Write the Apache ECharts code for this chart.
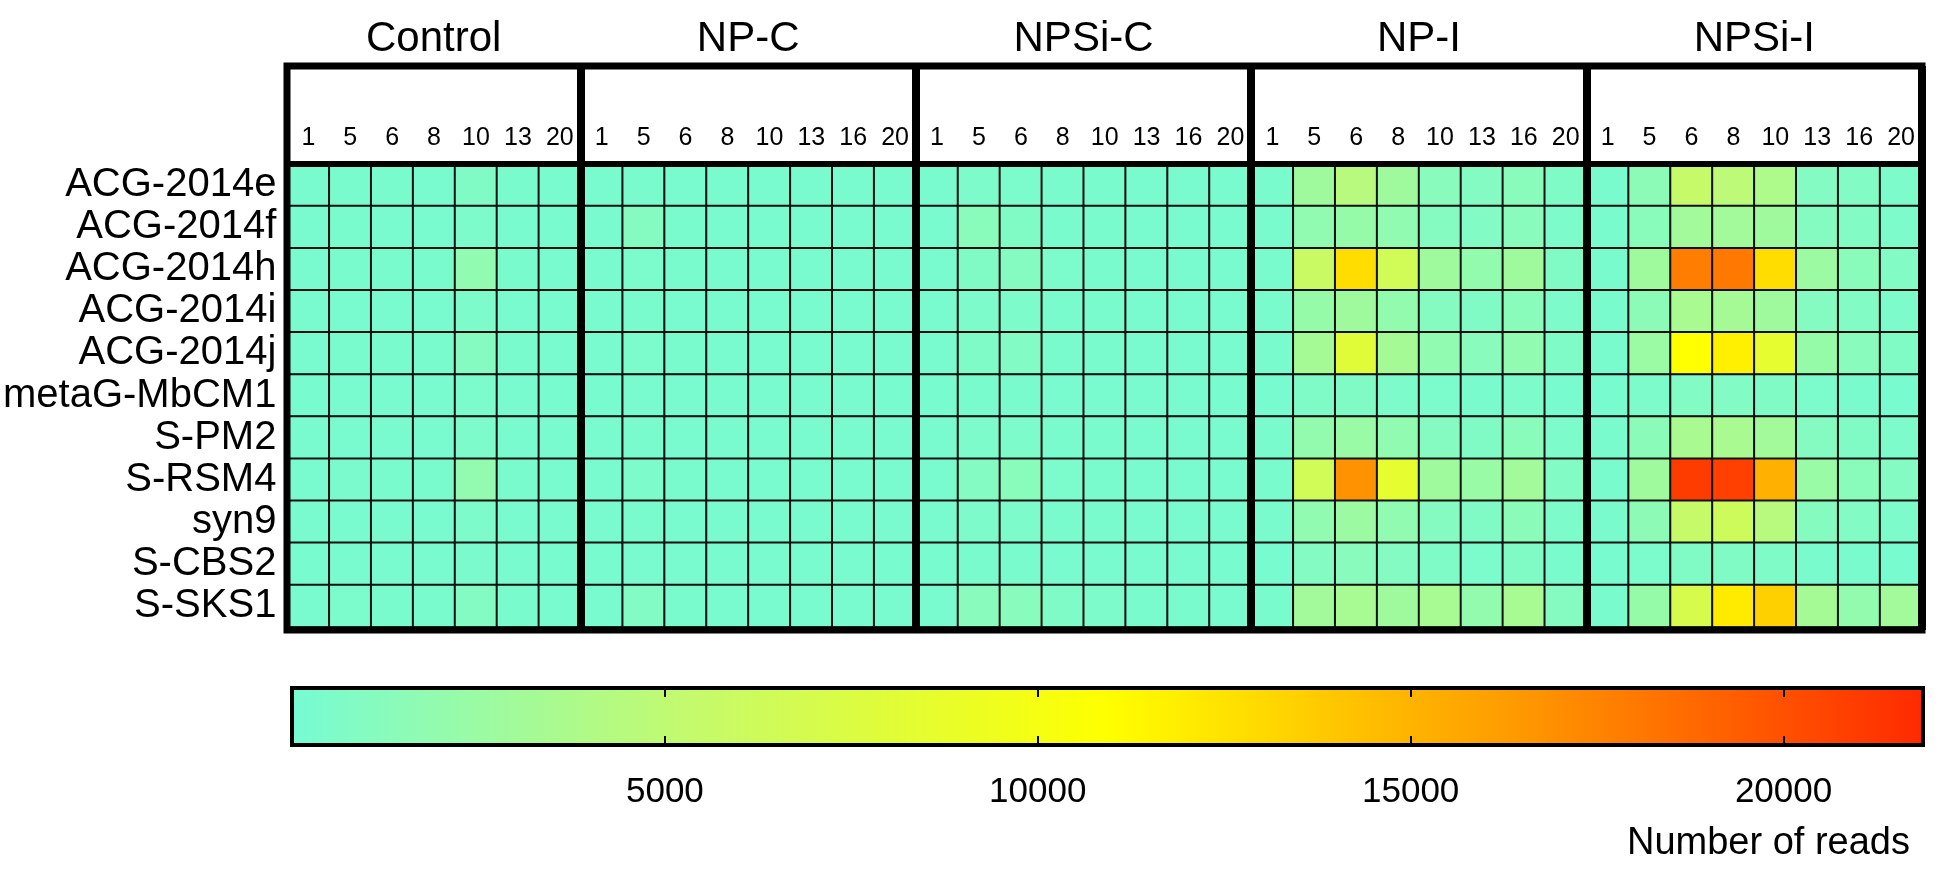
<!DOCTYPE html>
<html>
<head>
<meta charset="utf-8">
<title>Number of reads heatmap</title>
<script src="https://cdn.jsdelivr.net/npm/echarts@6/dist/echarts.min.js"></script>
<style>
  html, body { margin: 0; padding: 0; background: #fff; }
  #chart { width: 1950px; height: 873px; }
</style>
</head>
<body>
<div id="chart"></div>
<script>
// rows (top to bottom)
const strains = ['ACG-2014e', 'ACG-2014f', 'ACG-2014h', 'ACG-2014i', 'ACG-2014j',
  'metaG-MbCM1', 'S-PM2', 'S-RSM4', 'syn9', 'S-CBS2', 'S-SKS1']

const groups = ['Control', 'NP-C', 'NPSi-C', 'NP-I', 'NPSi-I']
const controlDays = ['1', '5', '6', '8', '10', '13', '20']
const treatDays = ['1', '5', '6', '8', '10', '13', '16', '20']

// reads per strain (row) and sampling day (column)
const controlReads = [
  [250, 300, 300, 250, 700, 300, 250],
  [250, 300, 250, 250, 500, 250, 250],
  [250, 300, 300, 300, 1800, 300, 250],
  [250, 250, 250, 250, 500, 250, 250],
  [250, 300, 300, 300, 1000, 300, 250],
  [200, 250, 250, 250, 400, 250, 200],
  [250, 250, 250, 250, 500, 250, 250],
  [250, 350, 300, 300, 1900, 300, 250],
  [250, 250, 250, 250, 500, 250, 250],
  [200, 250, 250, 250, 350, 250, 200],
  [250, 400, 300, 300, 900, 300, 250]
]
const npcReads = [
  [250, 300, 250, 250, 250, 250, 250, 250],
  [250, 1000, 300, 250, 250, 250, 250, 250],
  [250, 400, 300, 250, 250, 250, 250, 250],
  [250, 300, 250, 250, 250, 250, 250, 250],
  [250, 400, 300, 250, 250, 250, 250, 250],
  [200, 250, 250, 250, 250, 250, 250, 200],
  [250, 300, 250, 250, 250, 250, 250, 250],
  [250, 500, 300, 250, 250, 250, 250, 250],
  [250, 300, 250, 250, 250, 250, 250, 250],
  [200, 250, 250, 250, 250, 250, 250, 200],
  [250, 800, 300, 250, 250, 250, 250, 250]
]
const npsicReads = [
  [250, 500, 400, 300, 300, 250, 250, 250],
  [250, 1300, 700, 300, 300, 250, 250, 250],
  [250, 700, 1000, 400, 300, 250, 250, 250],
  [250, 500, 500, 300, 300, 250, 250, 250],
  [250, 600, 800, 300, 300, 250, 250, 250],
  [200, 300, 300, 250, 250, 250, 250, 200],
  [250, 500, 500, 300, 300, 250, 250, 250],
  [250, 900, 1300, 400, 300, 250, 250, 250],
  [250, 500, 500, 300, 300, 250, 250, 250],
  [200, 300, 300, 250, 250, 250, 250, 200],
  [250, 1200, 1200, 600, 500, 300, 300, 250]
]
const npiReads = [
  [300, 2800, 4500, 2800, 1200, 900, 1300, 600],
  [300, 1800, 2200, 1800, 1000, 800, 1200, 500],
  [300, 5800, 12800, 6500, 2800, 2000, 2800, 700],
  [300, 2200, 2800, 2000, 1000, 700, 1300, 500],
  [300, 3200, 8000, 3200, 1800, 1200, 1800, 600],
  [200, 600, 700, 500, 400, 300, 500, 200],
  [300, 2000, 2400, 1800, 1000, 700, 1300, 500],
  [300, 6500, 16800, 8500, 2800, 2400, 3000, 800],
  [300, 1800, 2600, 1800, 1000, 700, 1400, 500],
  [200, 900, 1200, 900, 600, 400, 700, 300],
  [300, 3000, 3400, 2800, 3400, 2000, 3400, 1000]
]
const npsiiReads = [
  [300, 1500, 5500, 4800, 3800, 900, 800, 500],
  [300, 1300, 3000, 3000, 2800, 1000, 800, 500],
  [300, 2800, 17800, 18000, 12800, 2600, 1300, 800],
  [300, 1500, 3500, 3200, 2800, 1000, 800, 500],
  [300, 2500, 10900, 11800, 8500, 2200, 1200, 700],
  [200, 500, 800, 800, 700, 400, 300, 200],
  [300, 1400, 3500, 3500, 3000, 1000, 700, 500],
  [300, 2800, 21000, 20800, 15200, 2400, 1300, 900],
  [300, 1600, 5500, 6200, 4500, 1100, 800, 500],
  [200, 400, 700, 700, 600, 300, 300, 200],
  [300, 2200, 7000, 12000, 13500, 3200, 2000, 3000]
]

const colorTicks = [5000, 10000, 15000, 20000]
const readsMax = 21870

const groupDays = [controlDays, treatDays, treatDays, treatDays, treatDays]
const groupReads = [controlReads, npcReads, npsicReads, npiReads, npsiiReads]

// build columns and heatmap cells
const columns = []
const groupStarts = []
const groupCenters = {}
const cells = []
groups.forEach((g, gi) => {
  const start = columns.length
  groupStarts.push(start)
  groupDays[gi].forEach((d, di) => {
    const col = columns.length
    columns.push(g + '|' + d)
    groupReads[gi].forEach((row, ri) => {
      cells.push([col, ri, row[di]])
    })
  })
  groupCenters[(start + columns.length) / 2] = g
})

const font = 'Liberation Sans, Arial, sans-serif'
const gridLeft = 287
const gridRight = 1950 - 1922

const chart = echarts.init(document.getElementById('chart'))
const option = {
  backgroundColor: '#fff',
  animation: false,
  textStyle: { fontFamily: font, color: '#000' },
  title: {
    text: 'Number of reads',
    right: 35,
    top: 820,
    textStyle: { fontFamily: font, fontSize: 38, fontWeight: 'normal', color: '#000' }
  },
  grid: [
    // frame: header + cells
    { left: gridLeft, right: gridRight, top: 66, bottom: 873 - 630, show: true,
      borderColor: '#000', borderWidth: 7, backgroundColor: 'transparent', z: 6 },
    // cells
    { left: gridLeft, right: gridRight, top: 164, bottom: 873 - 627 },
    // colour bar frame
    { left: 292, width: 1631, top: 688, height: 57, show: true,
      borderColor: '#000', borderWidth: 4, backgroundColor: 'transparent', z: 10 }
  ],
  xAxis: [
    {
      gridIndex: 0, type: 'category', data: columns, z: 6,
      axisLine: { show: false }, axisTick: { show: false }, axisLabel: { show: false },
      splitLine: {
        show: true,
        interval: (idx) => groupStarts.indexOf(idx) > 0,
        lineStyle: { color: '#000', width: 8 }
      }
    },
    {
      gridIndex: 0, type: 'value', min: 0, max: columns.length, interval: 0.5,
      position: 'top', z: 6,
      axisLine: { show: false }, axisTick: { show: false }, splitLine: { show: false },
      axisLabel: {
        margin: 6, fontSize: 42, color: '#000', fontFamily: font,
        formatter: (v) => groupCenters[v] || ''
      }
    },
    {
      gridIndex: 1, type: 'category', data: columns, position: 'top', z: 6,
      axisLine: { show: true, lineStyle: { color: '#000', width: 6 } },
      axisTick: { show: false },
      axisLabel: {
        interval: 0, margin: 13, fontSize: 25, color: '#000', fontFamily: font,
        formatter: (v) => v.split('|')[1]
      },
      splitLine: { show: false }
    },
    {
      gridIndex: 2, type: 'value', min: 0, max: readsMax, interval: 5000, z: 10,
      position: 'bottom',
      axisLine: { show: false },
      axisTick: { show: true, inside: true, length: 9, lineStyle: { color: '#000', width: 2 } },
      splitLine: { show: false },
      axisLabel: {
        margin: 30, fontSize: 35, color: '#000', fontFamily: font,
        formatter: (v) => colorTicks.indexOf(v) >= 0 ? String(v) : ''
      }
    },
    {
      gridIndex: 2, type: 'value', min: 0, max: readsMax, interval: 5000, z: 10,
      position: 'top',
      axisLine: { show: false },
      axisTick: { show: true, inside: true, length: 9, lineStyle: { color: '#000', width: 2 } },
      splitLine: { show: false }, axisLabel: { show: false }
    }
  ],
  yAxis: [
    { gridIndex: 0, type: 'value', min: 0, max: 1, show: false },
    {
      gridIndex: 1, type: 'category', data: strains, inverse: true,
      axisLine: { show: false }, axisTick: { show: false }, splitLine: { show: false },
      axisLabel: { interval: 0, margin: 11, fontSize: 40, color: '#000', fontFamily: font }
    },
    { gridIndex: 2, type: 'value', min: 0, max: 1, show: false }
  ],
  visualMap: {
    type: 'continuous',
    seriesIndex: 0,
    min: 0,
    max: readsMax,
    orient: 'horizontal',
    left: 292,
    top: 688,
    itemWidth: 57,
    itemHeight: 1631,
    padding: 0,
    text: null,
    calculable: false,
    hoverLink: false,
    inRange: { color: ['#76fbd4', '#c6fa6a', '#ffff00', '#ff9a00', '#ff2a00'] }
  },
  series: [{
    type: 'heatmap',
    xAxisIndex: 2,
    yAxisIndex: 1,
    data: cells,
    itemStyle: { borderColor: '#111', borderWidth: 2 },
    emphasis: { disabled: true }
  }]
}
chart.setOption(option)
</script>
</body>
</html>
